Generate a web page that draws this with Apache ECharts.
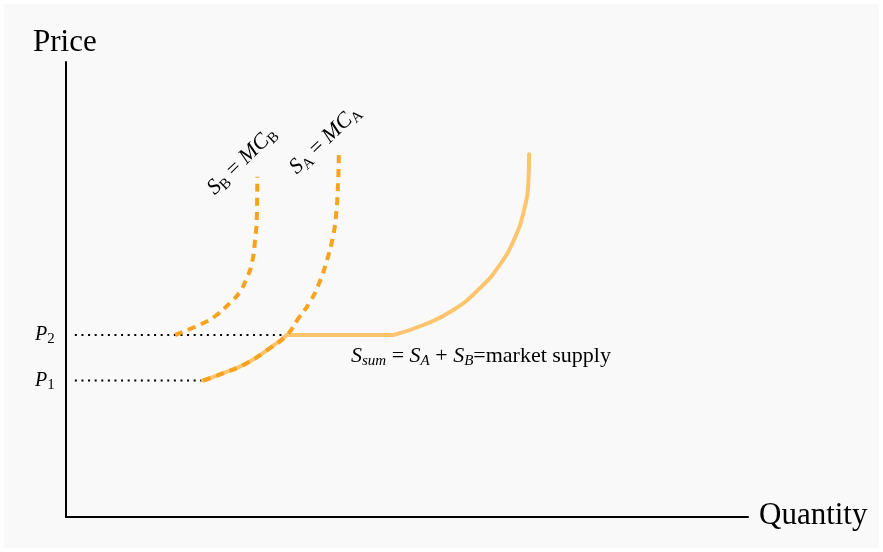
<!DOCTYPE html>
<html>
<head>
<meta charset="utf-8">
<script src="https://cdn.jsdelivr.net/npm/echarts@6/dist/echarts.min.js"></script>
<style>
html,body{margin:0;padding:0;background:#fff;}
#chart{width:883px;height:552px;background:#f9f9f9;box-shadow:inset 0 0 0 4px #fff;}
</style>
</head>
<body>
<div id="chart"></div>
<script>
// Price levels
const priceLevels = [30, 40]; // P1, P2
const priceLabels = ['1', '2'];
// S_B = MC_B (quantity, price)
const sbQ = [16.0, 20.1, 22.1, 24.0, 25.5, 26.5, 27.2, 27.7, 28.0, 28.05];
const sbP = [40, 42.6, 44.4, 47.0, 49.5, 52.5, 55.4, 60.5, 67.1, 74.8];
// S_A = MC_A
const saQ = [20.1, 23.1, 26.5, 29.9, 32.4, 34.1, 35.8, 37.2, 38.2, 39.1, 39.6, 39.9, 40.0];
const saP = [30, 31.6, 33.8, 37.1, 40, 43.7, 47.3, 51.7, 56.1, 61.3, 66.4, 73.7, 79.7];
// S_sum: lower part (only A), flat jump at P2, upper part
const sumLowQ = [20.1, 23.1, 26.5, 29.9, 32.4];
const sumLowP = [30, 31.6, 33.8, 37.1, 40];
const sumFlatQ = [32.4, 48.0];
const sumFlatP = [40, 40];
const sumHighQ = [48.0, 52.4, 56.8, 60.7, 63.6, 65.8, 67.1, 67.8, 67.9];
const sumHighP = [40, 42.2, 45.5, 50.3, 55.4, 61.3, 67.1, 73.7, 79.7];
// dotted guide ends
const guideStartQ = 1.3;
const guideEndQ = [20.1, 32.4];

const zip = (a, b) => a.map((v, i) => [v, b[i]]);
const SERIF = "'Liberation Serif','DejaVu Serif',serif";
const sumColor = '#ffc56e';
const dashColor = '#f8a21e';

const chart = echarts.init(document.getElementById('chart'));

const riS = {fontFamily: SERIF, fontStyle: 'italic', fontSize: 22, lineHeight: 26, verticalAlign: 'middle', fill: '#000'};
const subI = {fontFamily: SERIF, fontStyle: 'italic', fontSize: 15, lineHeight: 13, verticalAlign: 'bottom', fill: '#000'};
const subR = {fontFamily: SERIF, fontSize: 15, lineHeight: 13, verticalAlign: 'bottom', fill: '#000'};
const rom = {fontFamily: SERIF, fontSize: 22, lineHeight: 26, verticalAlign: 'middle', fill: '#000'};
const pI = {fontFamily: SERIF, fontStyle: 'italic', fontSize: 20, lineHeight: 24, verticalAlign: 'middle', fill: '#000'};
const pS = {fontFamily: SERIF, fontSize: 15, lineHeight: 12, verticalAlign: 'bottom', fill: '#000'};

function yPix(p) { return 517 - p * 4.55; }

const graphics = [
  {type: 'text', x: 33, y: 43, style: {text: 'Price', font: "31px " + SERIF, fill: '#000', verticalAlign: 'middle'}},
  {type: 'text', x: 759, y: 516, style: {text: 'Quantity', font: "31px " + SERIF, fill: '#000', verticalAlign: 'middle'}},
  {type: 'text', x: 351, y: 356, style: {text: '{i|S}{s|sum}{r| = }{i|S}{s|A}{r| + }{i|S}{s|B}{r|=market supply}', verticalAlign: 'middle', rich: {i: riS, s: subI, r: rom}}},
  {type: 'text', x: 242, y: 161, rotation: 0.77, style: {text: '{i|S}{s|B}{r| = }{i|MC}{s|B}', align: 'center', verticalAlign: 'middle', rich: {i: riS, s: subR, r: rom}}},
  {type: 'text', x: 325, y: 140, rotation: 0.76, style: {text: '{i|S}{s|A}{r| = }{i|MC}{s|A}', align: 'center', verticalAlign: 'middle', rich: {i: riS, s: subR, r: rom}}}
];
priceLevels.forEach((p, i) => {
  graphics.push({type: 'text', x: 35, y: yPix(p), style: {text: '{i|P}{s|' + priceLabels[i] + '}', verticalAlign: 'middle', rich: {i: pI, s: pS}}});
});

const series = [];
priceLevels.forEach((p, i) => {
  series.push({type: 'line', data: [[guideStartQ, p], [guideEndQ[i], p]], symbol: 'none', silent: true, z: 1,
    lineStyle: {color: '#000', width: 2, type: [2, 4.6]}});
});
[[sumLowQ, sumLowP, true], [sumFlatQ, sumFlatP, false], [sumHighQ, sumHighP, true]].forEach(([q, p, sm]) => {
  series.push({type: 'line', data: zip(q, p), symbol: 'none', smooth: sm, silent: true, z: 2,
    lineStyle: {color: sumColor, width: 4, cap: 'round', join: 'round'}});
});
[[sbQ, sbP], [saQ, saP]].forEach(([q, p]) => {
  series.push({type: 'line', data: zip(q, p), symbol: 'none', smooth: true, silent: true, z: 3,
    lineStyle: {color: dashColor, width: 4, type: [8, 6], join: 'round'}});
});

chart.setOption({
  animation: false,
  backgroundColor: 'transparent',
  grid: {left: 66, right: 135, top: 62, bottom: 35},
  xAxis: {type: 'value', min: 0, max: 100, axisLine: {show: true, lineStyle: {color: '#000', width: 2}},
    axisTick: {show: false}, axisLabel: {show: false}, splitLine: {show: false}},
  yAxis: {type: 'value', min: 0, max: 100, axisLine: {show: true, lineStyle: {color: '#000', width: 2}},
    axisTick: {show: false}, axisLabel: {show: false}, splitLine: {show: false}},
  graphic: graphics,
  series: series
});
</script>
</body>
</html>
